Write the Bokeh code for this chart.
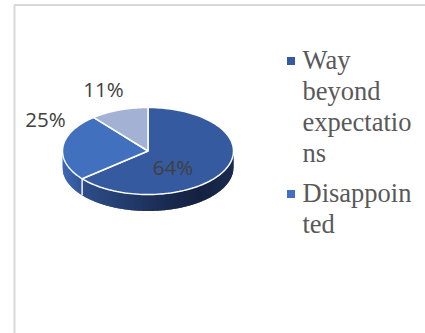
import numpy as np
from bokeh.core.properties import value
from bokeh.embed import file_html
from bokeh.models import Range1d
from bokeh.plotting import figure
from bokeh.resources import INLINE

# Survey shares, in the order the slices run clockwise from twelve o'clock
shares = [64, 25, 11]
share_labels = ["64%", "25%", "11%"]
top_colors = ["#355a9f", "#4170be", "#a3b1d4"]
legend_names = ["Way\nbeyond\nexpectatio\nns", "Disappoin\nted"]
legend_colors = ["#355a9f", "#4170be"]

W, H = 425, 333
CX, CY, RX, RY, DEPTH = 147.5, 150.5, 85.5, 43.5, 16.5

p = figure(width=W, height=H, output_backend="svg", toolbar_location=None,
           x_range=Range1d(0, W), y_range=Range1d(H, 0), min_border=0,
           outline_line_color=None, background_fill_color="white")
p.xaxis.visible = False
p.yaxis.visible = False
p.grid.visible = False


def rim(angle):
    return CX + RX * np.sin(angle), CY - RY * np.cos(angle)


edges = np.radians(np.cumsum([0] + shares) * 3.6)
seam_x, seam_y = rim(edges[1])


def lerp(stops, t):
    xs = [s[0] for s in stops]
    return "#%02x%02x%02x" % tuple(
        int(round(np.interp(t, xs, [s[1][c] for s in stops]))) for c in range(3))


def front_rim_y(x):
    u = np.clip((x - CX) / RX, -1, 1)
    return CY + RY * np.sqrt(1 - u * u)


# Side wall of the tilted disc: overlapping column strips, painted left to
# right, give the horizontal shading. The shade depends on how far across
# the disc a column sits (0 left, 1 right).
second_slice_shades = [(0.0, (62, 106, 178)), (0.12, (47, 84, 150))]
first_slice_shades = [
    (0.11, (46, 78, 138)), (0.4, (34, 58, 106)), (0.65, (24, 40, 76)),
    (0.8, (21, 34, 65)), (1.0, (26, 42, 78)),
]
wall_xs, wall_ys, wall_cols = [], [], []
columns = np.arange(CX - RX, CX + RX, 1.0)
for x0 in columns:
    x1 = min(x0 + 2.0, CX + RX)
    xs = np.linspace(x0, x1, 5)
    ys = front_rim_y(xs)
    wall_xs.append(np.r_[xs, xs[::-1]].tolist())
    wall_ys.append(np.r_[ys - 1, (ys + DEPTH)[::-1]].tolist())
    t = (x0 + 0.5 - (CX - RX)) / (2 * RX)
    shades = second_slice_shades if x0 < seam_x else first_slice_shades
    wall_cols.append(lerp(shades, t))
p.patches(wall_xs, wall_ys, fill_color=wall_cols, line_color=None)

# White seam down the wall where the first two slices meet
p.line([seam_x, seam_x], [seam_y, seam_y + DEPTH], line_color="#f2f4f8", line_width=1.5)

# Slice tops
for i, color in enumerate(top_colors):
    a = np.linspace(edges[i], edges[i + 1], 120)
    x, y = rim(a)
    p.patch(np.r_[CX, x], np.r_[CY, y], fill_color=color,
            line_color="white", line_width=1.5)

# Value labels
label_x = [172.5, 45, 103]
label_y = [166.5, 118.5, 88.5]
p.text(label_x, label_y, text=share_labels, text_align="center", text_baseline="middle",
       text_font=value("Open Sans"), text_font_size="20.5px", text_color="#404040")

# Legend, with entries wrapped the way the narrow box forces them
LINE = 31.0
ENTRY_GAP = 9.0
row = 60.5
for name, color in zip(legend_names, legend_colors):
    p.rect([290.5], [row], width=8, height=8, fill_color=color, line_color=None)
    for part in name.split("\n"):
        p.text([302], [row - 1.5], text=[part], text_align="left", text_baseline="middle",
               text_font=value("Liberation Serif"), text_font_size="26.5px",
               text_color="#595959")
        row += LINE
    row += ENTRY_GAP

# Chart frame: only the top and left edges fall inside the crop
p.line([14, 14, W], [H, 4.5, 4.5], line_color="#d9d9d9", line_width=2)

open("out.html", "w").write(file_html(p, INLINE))
